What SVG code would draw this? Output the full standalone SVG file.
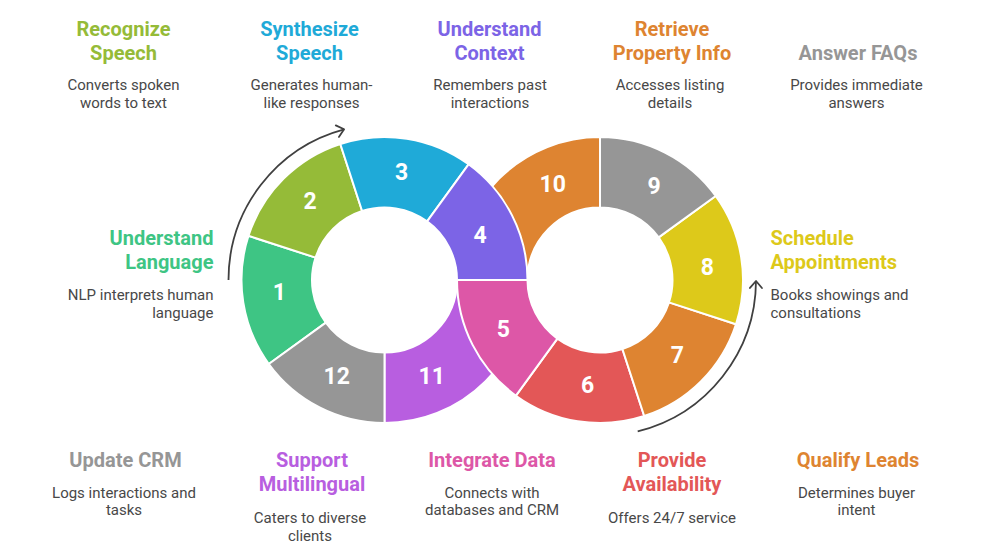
<svg xmlns="http://www.w3.org/2000/svg" width="984" height="547" viewBox="0 0 984 547">
<defs>
<style>
.seg{stroke:#ffffff;stroke-width:2;stroke-linejoin:round}
.num{font-family:Roboto,"Liberation Sans",sans-serif;font-weight:700;font-size:23px;fill:#ffffff;text-anchor:middle}
.ttl{font-family:Roboto,"Liberation Sans",sans-serif;font-weight:700;font-size:20px;text-anchor:middle}
.dsc{font-family:Roboto,"Liberation Sans",sans-serif;font-weight:400;font-size:15px;fill:#484848;text-anchor:middle}
.arc{fill:none;stroke:#404040;stroke-width:1.8;marker-end:url(#chev)}
</style>
<marker id="chev" viewBox="-10 -8 12 16" markerWidth="12" markerHeight="16" refX="0" refY="0" orient="auto" markerUnits="userSpaceOnUse">
<path d="M-7,-6 L0,0 L-7,6" fill="none" stroke="#404040" stroke-width="1.8" stroke-linecap="round" stroke-linejoin="round"/>
</marker>
</defs>
<rect width="984" height="547" fill="#ffffff"/>

<g id="seg10"><path class="seg" fill="#DE8431" d="M457,280 A143,143 0 0 1 600,137 L600,207.5 A72.5,72.5 0 0 0 527.5,280 Z"/><text class="num" x="552.7" y="191.5">10</text></g>
<g id="seg11"><path class="seg" fill="#B85EE0" d="M527.5,280 A143,143 0 0 1 384.5,423 L384.5,352.5 A72.5,72.5 0 0 0 457,280 Z"/><text class="num" x="431.7" y="384.2">11</text></g>
<g id="seg1"><path class="seg" fill="#3EC584" d="M268.811,364.053 A143,143 0 0 1 248.499,235.811 L315.548,257.596 A72.5,72.5 0 0 0 325.846,322.614 Z"/><text class="num" x="279.3" y="299.9">1</text></g>
<g id="seg2"><path class="seg" fill="#95BB38" d="M248.499,235.811 A143,143 0 0 1 340.311,143.999 L362.096,211.048 A72.5,72.5 0 0 0 315.548,257.596 Z"/><text class="num" x="310" y="209.2">2</text></g>
<g id="seg3"><path class="seg" fill="#1FAAD8" d="M340.311,143.999 A143,143 0 0 1 468.553,164.311 L427.114,221.346 A72.5,72.5 0 0 0 362.096,211.048 Z"/><text class="num" x="401.7" y="179.9">3</text></g>
<g id="seg12"><path class="seg" fill="#969696" d="M384.5,423 A143,143 0 0 1 268.811,364.053 L325.846,322.614 A72.5,72.5 0 0 0 384.5,352.5 Z"/><text class="num" x="336.7" y="384.2">12</text></g>
<g id="seg6"><path class="seg" fill="#E35757" d="M644.189,416.001 A143,143 0 0 1 515.947,395.689 L557.386,338.654 A72.5,72.5 0 0 0 622.404,348.952 Z"/><text class="num" x="587.7" y="393.2">6</text></g>
<g id="seg7"><path class="seg" fill="#DE8431" d="M736.001,324.189 A143,143 0 0 1 644.189,416.001 L622.404,348.952 A72.5,72.5 0 0 0 668.952,302.404 Z"/><text class="num" x="677.3" y="363.2">7</text></g>
<g id="seg8"><path class="seg" fill="#DDC91A" d="M715.689,195.947 A143,143 0 0 1 736.001,324.189 L668.952,302.404 A72.5,72.5 0 0 0 658.654,237.386 Z"/><text class="num" x="707.3" y="274.9">8</text></g>
<g id="seg9"><path class="seg" fill="#969696" d="M600,137 A143,143 0 0 1 715.689,195.947 L658.654,237.386 A72.5,72.5 0 0 0 600,207.5 Z"/><text class="num" x="654" y="194.2">9</text></g>
<g id="seg4"><path class="seg" fill="#7C64E6" d="M468.553,164.311 A143,143 0 0 1 527.5,280 L457,280 A72.5,72.5 0 0 0 427.114,221.346 Z"/><text class="num" x="480" y="243.2">4</text></g>
<g id="seg5"><path class="seg" fill="#DD57A7" d="M515.947,395.689 A143,143 0 0 1 457,280 L527.5,280 A72.5,72.5 0 0 0 557.386,338.654 Z"/><text class="num" x="503.3" y="336.5">5</text></g>

<g id="connectors">
<path class="arc" d="M228.5,280 A156,156 0 0 1 344.1,129.3"/>
<path class="arc" d="M637.7,431.4 A156,156 0 0 0 756,281"/>
</g>

<g id="label-recognize-speech">
<text class="ttl" fill="#95BB38" x="123.5" y="36">Recognize</text>
<text class="ttl" fill="#95BB38" x="123.5" y="59.5">Speech</text>
<text class="dsc" x="123.5" y="90">Converts spoken</text>
<text class="dsc" x="123.5" y="107.5">words to text</text>
</g>
<g id="label-synthesize-speech">
<text class="ttl" fill="#1FAAD8" x="309.5" y="36">Synthesize</text>
<text class="ttl" fill="#1FAAD8" x="309.5" y="59.5">Speech</text>
<text class="dsc" x="311.5" y="90">Generates human-</text>
<text class="dsc" x="311.5" y="107.5">like responses</text>
</g>
<g id="label-understand-context">
<text class="ttl" fill="#7C64E6" x="489.5" y="36">Understand</text>
<text class="ttl" fill="#7C64E6" x="489.5" y="59.5">Context</text>
<text class="dsc" x="490" y="90">Remembers past</text>
<text class="dsc" x="490" y="107.5">interactions</text>
</g>
<g id="label-retrieve-property">
<text class="ttl" fill="#DE8431" x="672" y="36">Retrieve</text>
<text class="ttl" fill="#DE8431" x="672" y="59.5">Property Info</text>
<text class="dsc" x="670" y="90">Accesses listing</text>
<text class="dsc" x="670" y="107.5">details</text>
</g>
<g id="label-answer-faqs">
<text class="ttl" fill="#969696" x="858" y="59.5">Answer FAQs</text>
<text class="dsc" x="856.5" y="90">Provides immediate</text>
<text class="dsc" x="856.5" y="107.5">answers</text>
</g>
<g id="label-understand-language">
<text class="ttl" fill="#3EC584" x="213.5" y="245" style="text-anchor:end">Understand</text>
<text class="ttl" fill="#3EC584" x="213.5" y="268.5" style="text-anchor:end">Language</text>
<text class="dsc" x="213.5" y="300" style="text-anchor:end">NLP interprets human</text>
<text class="dsc" x="213.5" y="317.5" style="text-anchor:end">language</text>
</g>
<g id="label-schedule">
<text class="ttl" fill="#DDC91A" x="770.5" y="245" style="text-anchor:start">Schedule</text>
<text class="ttl" fill="#DDC91A" x="770.5" y="268.5" style="text-anchor:start">Appointments</text>
<text class="dsc" x="770.5" y="300" style="text-anchor:start">Books showings and</text>
<text class="dsc" x="770.5" y="317.5" style="text-anchor:start">consultations</text>
</g>
<g id="label-update-crm">
<text class="ttl" fill="#969696" x="125.5" y="466.5">Update CRM</text>
<text class="dsc" x="124" y="497.5">Logs interactions and</text>
<text class="dsc" x="124" y="515">tasks</text>
</g>
<g id="label-support-multilingual">
<text class="ttl" fill="#B85EE0" x="312" y="466.5">Support</text>
<text class="ttl" fill="#B85EE0" x="312" y="490.5">Multilingual</text>
<text class="dsc" x="310" y="523">Caters to diverse</text>
<text class="dsc" x="310" y="540.5">clients</text>
</g>
<g id="label-integrate-data">
<text class="ttl" fill="#DD57A7" x="492" y="466.5">Integrate Data</text>
<text class="dsc" x="492" y="497.5">Connects with</text>
<text class="dsc" x="492" y="515">databases and CRM</text>
</g>
<g id="label-provide-availability">
<text class="ttl" fill="#E35757" x="672" y="466.5">Provide</text>
<text class="ttl" fill="#E35757" x="672" y="490.5">Availability</text>
<text class="dsc" x="672" y="523">Offers 24/7 service</text>
</g>
<g id="label-qualify-leads">
<text class="ttl" fill="#DE8431" x="858" y="466.5">Qualify Leads</text>
<text class="dsc" x="856.5" y="497.5">Determines buyer</text>
<text class="dsc" x="856.5" y="515">intent</text>
</g>
</svg>
